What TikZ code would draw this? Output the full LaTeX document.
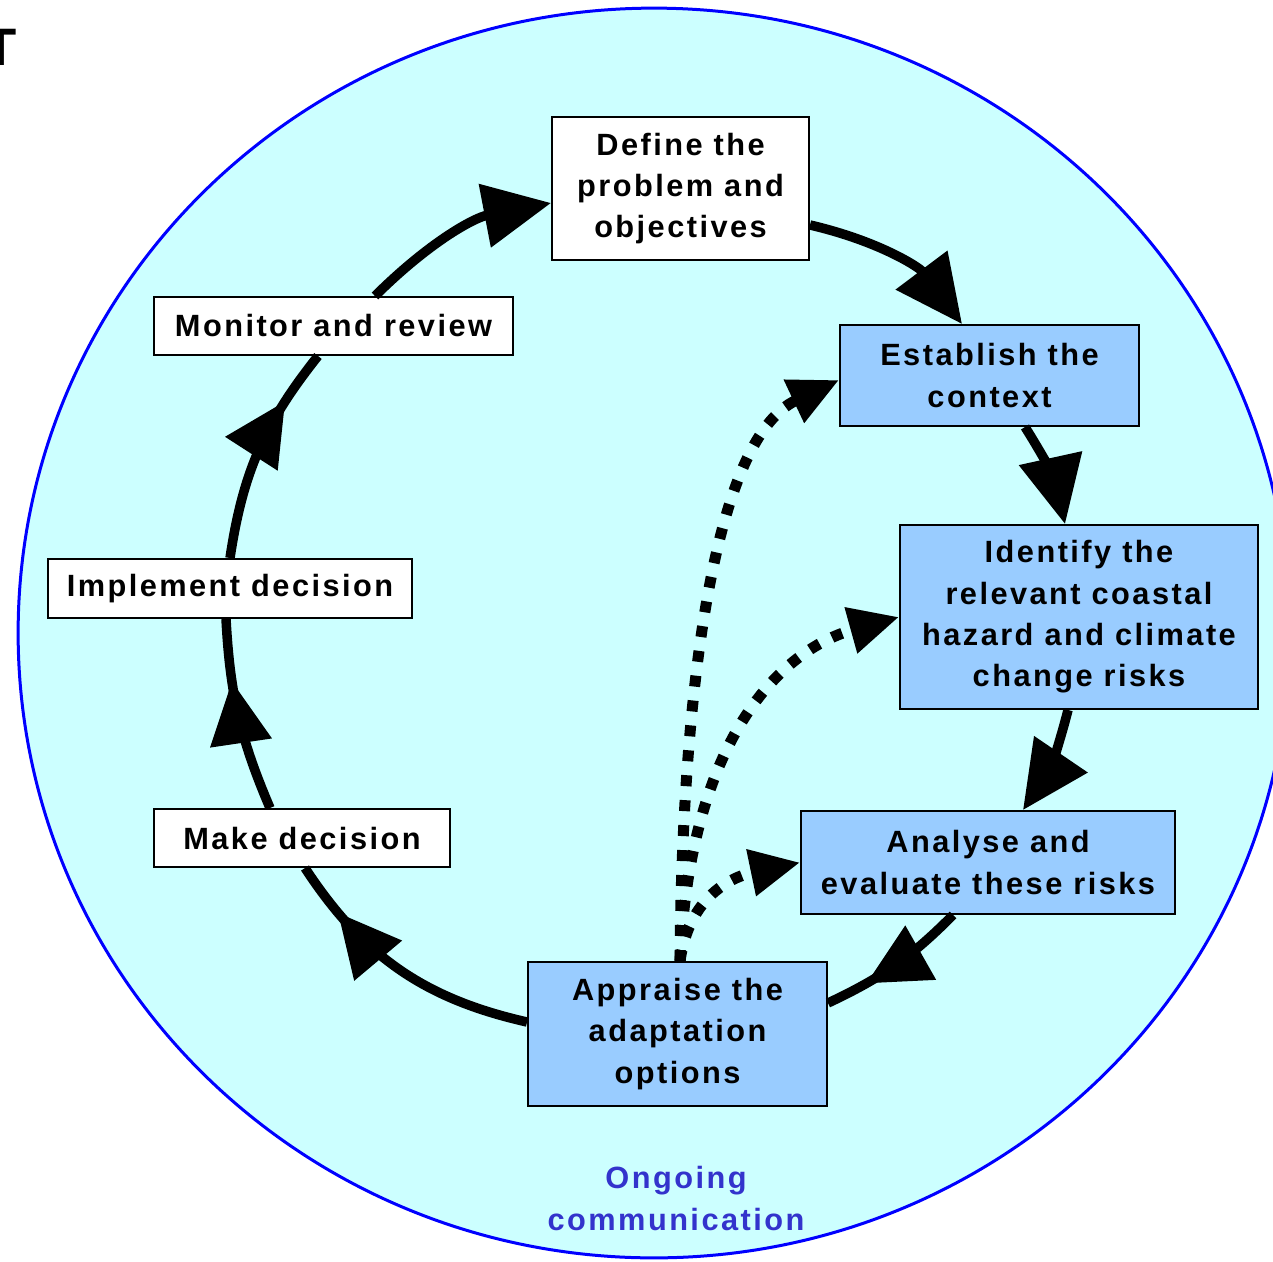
\documentclass[tikz,border=0pt]{standalone}
\usepackage{fontspec}
\setmainfont{Liberation Sans}
\newfontfamily\boxfont{Liberation Sans}[LetterSpace=8]
\usetikzlibrary{arrows.meta,decorations.markings,calc}
\definecolor{bgcyan}{HTML}{CCFFFF}
\definecolor{boxblue}{HTML}{99CCFF}
\definecolor{ringblue}{HTML}{0000FF}
\definecolor{talkblue}{HTML}{3333CC}
\begin{document}
\begin{tikzpicture}[x=0.02cm,y=0.02cm,
  lbl/.style={font=\boxfont\bfseries\fontsize{17.5}{23.5}\selectfont, align=center, inner sep=0pt, draw=black, line width=0.04cm},
  whitebox/.style={lbl, fill=white},
  bluebox/.style={lbl, fill=boxblue},
  cyc/.style={line width=0.19cm, draw=black},
  endtip/.style={-{Triangle[length=1.35cm,width=1.25cm]}},
  midtip/.style={postaction={decorate,decoration={markings,mark=at position #1 with {\arrow{Triangle[length=1.25cm,width=1.2cm]}}}}},
  dotline/.style={line width=0.22cm, dash pattern=on 0.22cm off 0.28cm, -{Triangle[length=1.0cm,width=0.9cm]}}
]
\useasboundingbox (0,0) rectangle (1273,-1261);
\fill[white] (0,0) rectangle (1273,-1261);
% background ring
\filldraw[fill=bgcyan, draw=ringblue, line width=0.06cm] (654,-633) ellipse [x radius=12.72cm, y radius=12.5cm];
% partial letter at top left (cut by the page edge, as in the reference)
\node[font=\bfseries\fontsize{30}{30}\selectfont, anchor=base, inner sep=0pt, text=black] (tee) at (1,-65) {\textbf{T}};

% boxes
\node[whitebox, minimum width=5.14cm, minimum height=2.86cm] (def) at (680.5,-188.5) {Define the\\problem and\\objectives};
\node[whitebox, minimum width=7.18cm, minimum height=1.16cm] (mon) at (333.5,-326) {Monitor and review};
\node[bluebox, minimum width=5.98cm, minimum height=2.02cm] (est) at (989.5,-375.5) {Establish the\\context};
\node[bluebox, minimum width=7.16cm, minimum height=3.68cm] (ide) at (1079,-617) {Identify the\\relevant coastal\\hazard and climate\\change risks};
\node[whitebox, minimum width=7.28cm, minimum height=1.18cm] (imp) at (230,-588.5) {Implement decision};
\node[whitebox, minimum width=5.92cm, minimum height=1.16cm] (mak) at (302,-838) {Make decision};
\node[bluebox, minimum width=7.48cm, minimum height=2.06cm] (ana) at (988,-862.5) {Analyse and\\evaluate these risks};
\node[bluebox, minimum width=5.98cm, minimum height=2.88cm] (app) at (677.5,-1034) {Appraise the\\adaptation\\options};
\node[font=\boxfont\bfseries\fontsize{17.5}{24.4}\selectfont, text=talkblue, align=center, inner sep=0pt] (talk) at (676,-1198.5) {Ongoing\\communication};

% main cycle
\draw[cyc, endtip] ([xshift=0.83cm]mon.north) to[bend left=17] ([yshift=-0.29cm]def.west);
\draw[cyc, endtip] ([yshift=-0.73cm]def.east) to[bend left=20] ([xshift=-0.55cm]est.north);
\draw[cyc, endtip] ([xshift=0.71cm]est.south) to[bend left=10] ([xshift=-0.28cm]ide.north);
\draw[cyc, endtip] ([xshift=-0.22cm]ide.south) to[bend left=10] ([xshift=0.7cm]ana.north);
\draw[cyc, midtip=0.72] ([xshift=-0.7cm]ana.south) to[bend left=10] ([yshift=0.62cm]app.east);
\draw[cyc, midtip=0.8] ([yshift=0.24cm]app.west) to[bend left=22] ([xshift=0.06cm]mak.south);
\draw[cyc, midtip=0.68] ([xshift=-0.64cm]mak.north) to[bend left=10] ([xshift=-0.08cm]imp.south);
\draw[cyc, midtip=0.75] (imp.north) to[bend left=15] ([xshift=-0.31cm]mon.south);

% dotted communication links
\draw[dotline] ([xshift=0.05cm]app.north) .. controls (682,-700) and (712,-440) .. ([yshift=-0.09cm]est.west);
\draw[dotline] ([xshift=0.05cm]app.north) .. controls (690,-740) and (780,-650) .. (ide.west);
\draw[dotline] ([xshift=0.05cm]app.north) .. controls (690,-890) and (740,-875) .. (ana.west);
\end{tikzpicture}
\end{document}
